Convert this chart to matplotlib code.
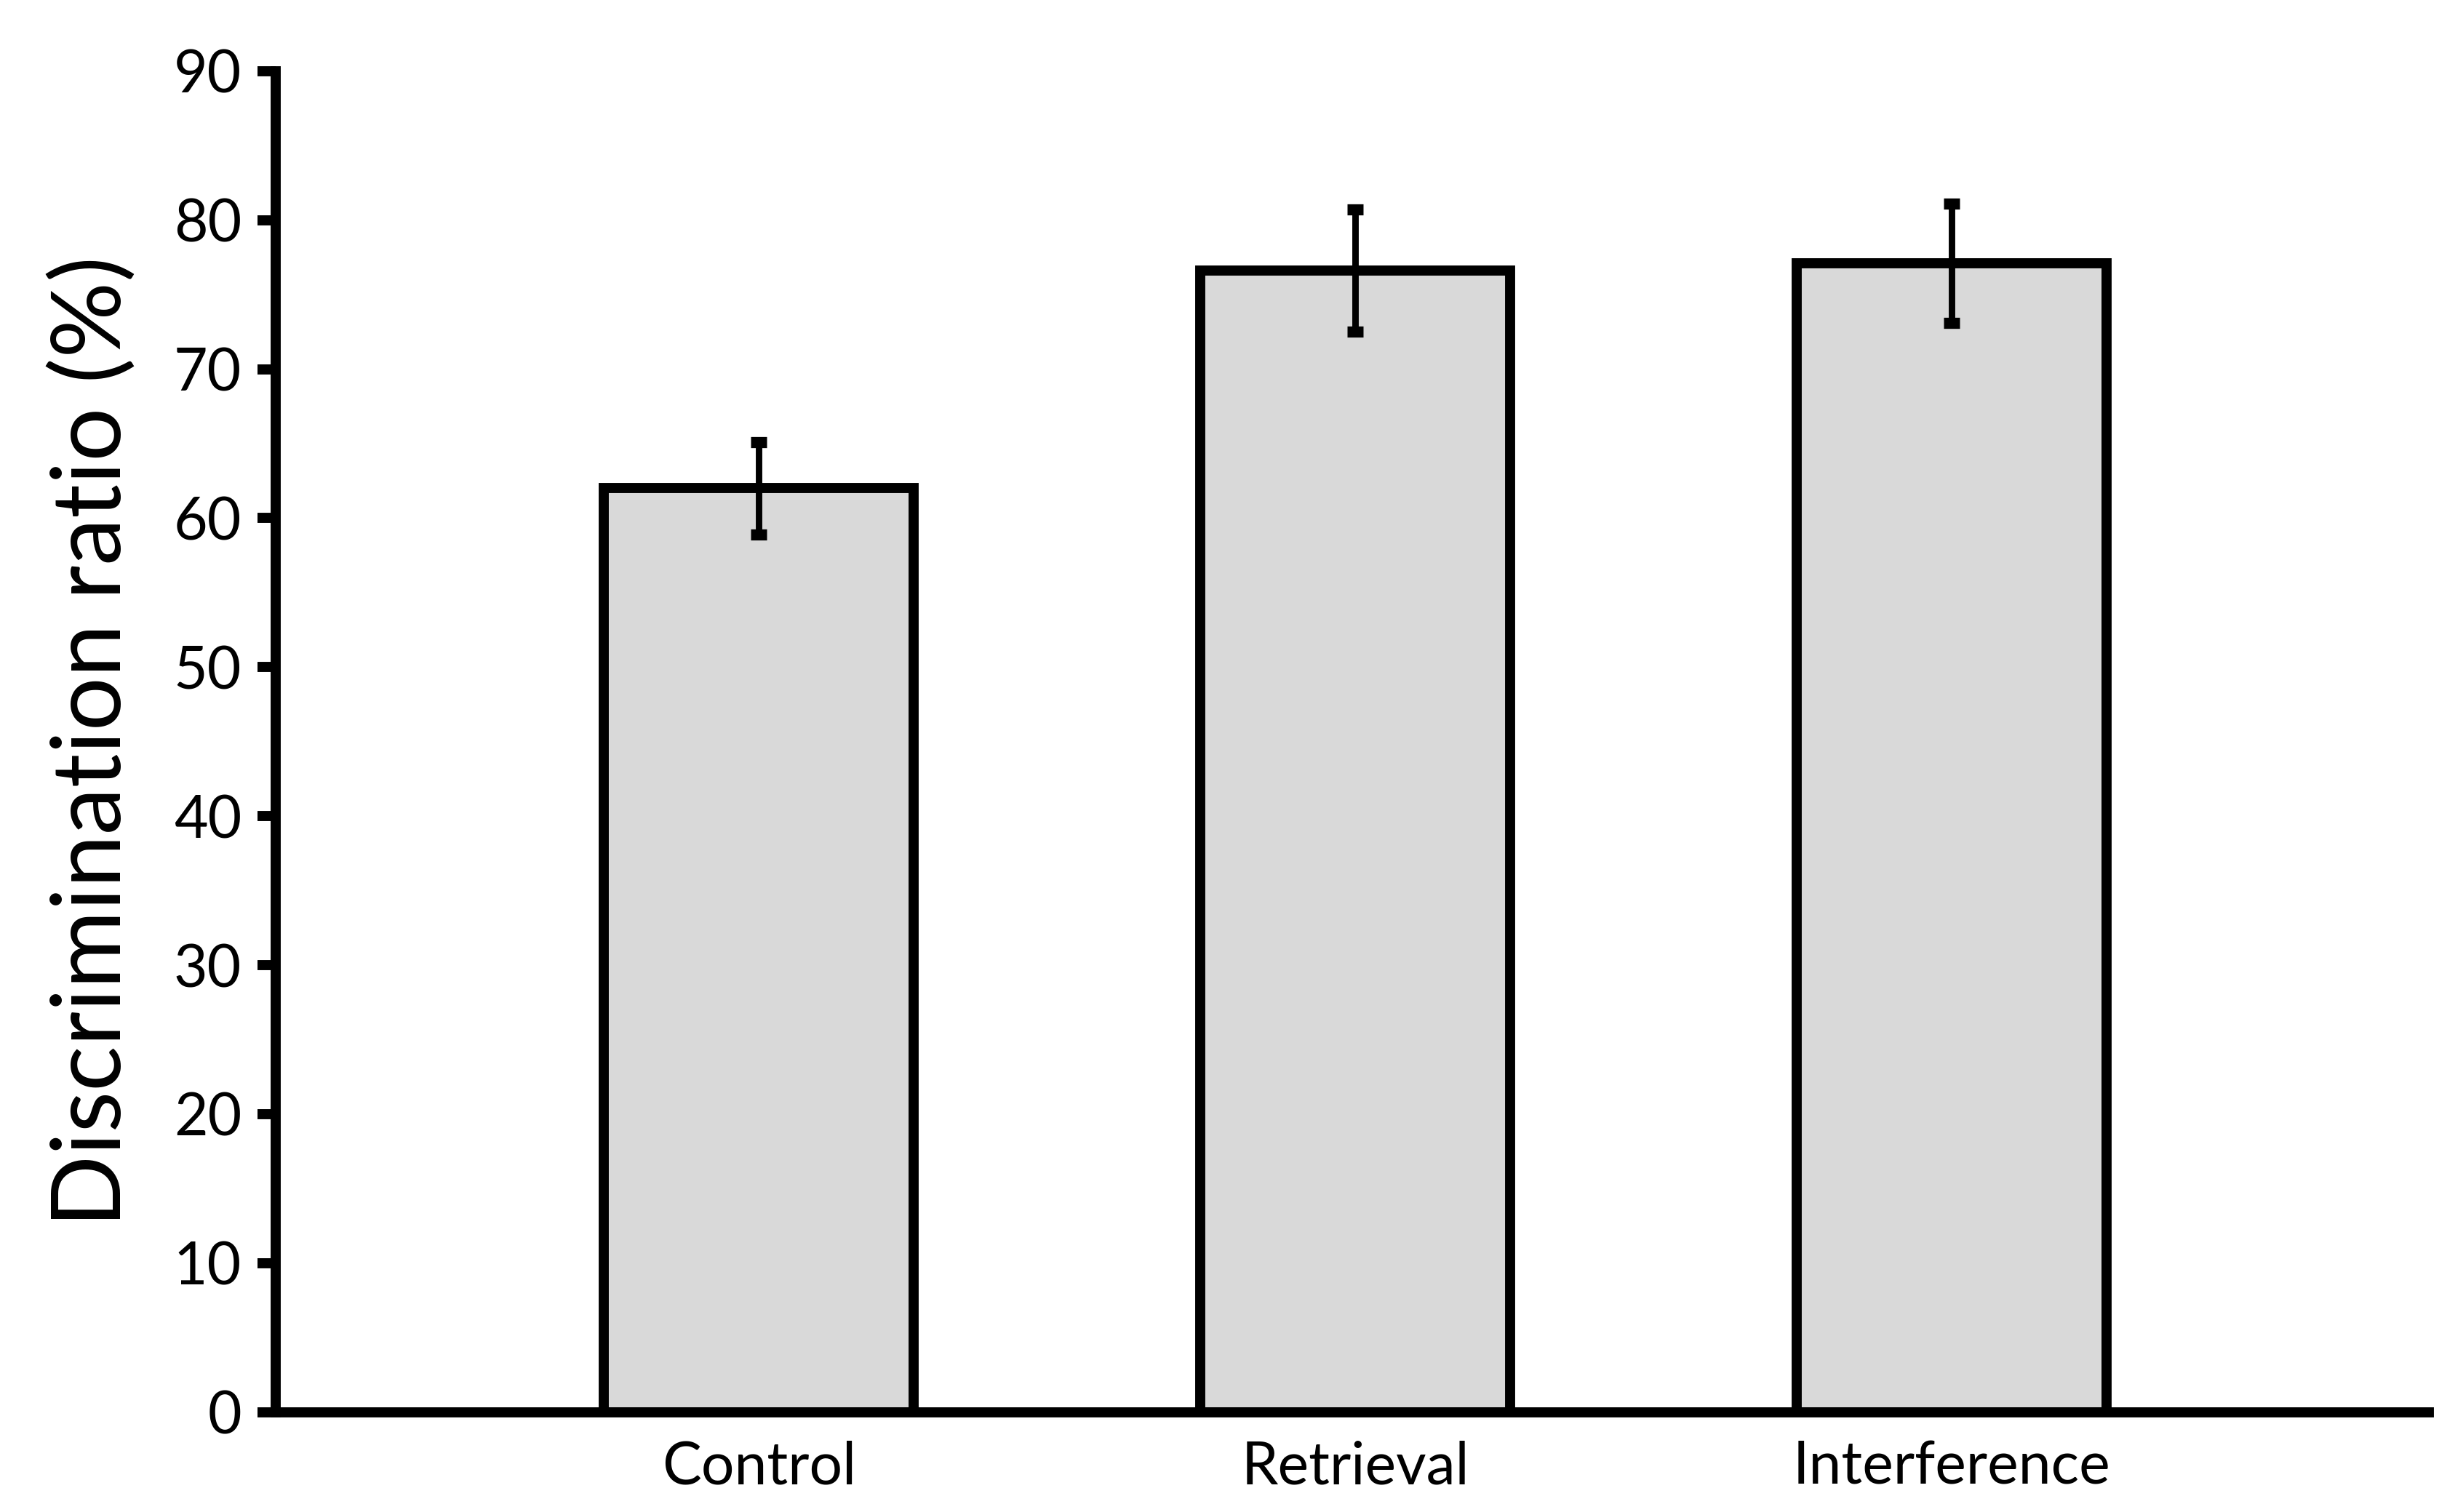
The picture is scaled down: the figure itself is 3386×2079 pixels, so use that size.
import numpy as np
import matplotlib.pyplot as plt

# Data
groups = ['Control', 'Retrieval', 'Interference']
ratio = [62.0, 76.6, 77.1]
sem = [3.1, 4.1, 4.0]
yticks = [0, 10, 20, 30, 40, 50, 60, 70, 80, 90]

plt.rcParams['font.family'] = ['Lato', 'DejaVu Sans']

fig = plt.figure(figsize=(16.93, 10.395), dpi=200)
ax = fig.add_axes([0.112, 0.066, 0.874, 0.887])

x = np.arange(len(groups))
ax.bar(x, ratio, width=0.52, color='#d9d9d9', edgecolor='black', linewidth=5, zorder=2)
ax.errorbar(x, ratio, yerr=sem, fmt='none', ecolor='black', elinewidth=3.2,
            capsize=4, capthick=5.5, zorder=3)

ax.set_xlim(-0.81, 2.80)
ax.set_ylim(0, 90)
ax.set_yticks(yticks)
ax.set_xticks(x)
ax.set_xticklabels(groups)

for s in ['top', 'right']:
    ax.spines[s].set_visible(False)
for s in ['left', 'bottom']:
    ax.spines[s].set_linewidth(5)

ax.tick_params(axis='y', direction='out', length=9, width=5, labelsize=29, pad=8)
ax.tick_params(axis='x', length=0, labelsize=29, pad=14)
ax.set_ylabel('Discrimination ratio (%)', fontsize=47, labelpad=18)

fig.savefig('out.png', dpi=200)
